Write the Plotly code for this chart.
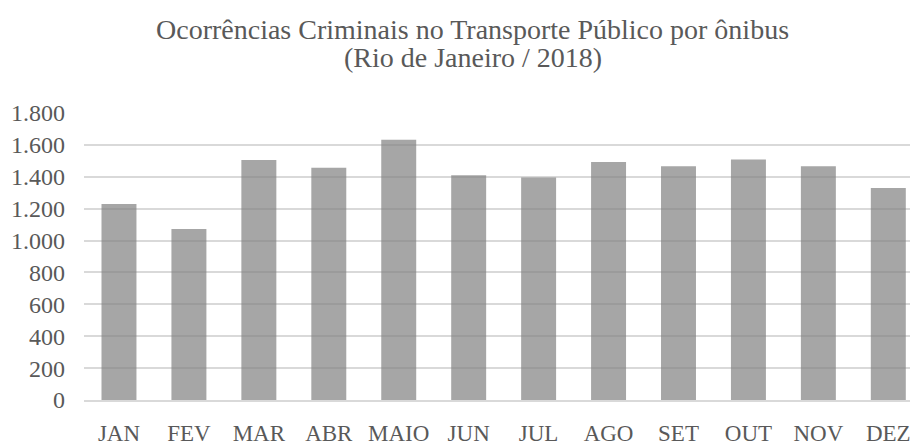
import plotly.graph_objects as go

# Monthly bus-transport crime occurrences, Rio de Janeiro 2018
meses = ["JAN", "FEV", "MAR", "ABR", "MAIO", "JUN", "JUL", "AGO", "SET", "OUT", "NOV", "DEZ"]
ocorrencias = [1230, 1073, 1505, 1456, 1633, 1409, 1395, 1492, 1466, 1509, 1466, 1329]
y_ticks = [0, 200, 400, 600, 800, 1000, 1200, 1400, 1600, 1800]
y_tick_labels = ["0", "200", "400", "600", "800", "1.000", "1.200", "1.400", "1.600", "1.800"]
titulo = ["Ocorrências Criminais no Transporte Público por ônibus", "(Rio de Janeiro / 2018)"]

FONT = "Liberation Serif"
TEXT_COLOR = "#595959"

fig = go.Figure(
    go.Bar(
        x=meses,
        y=ocorrencias,
        marker=dict(color="rgba(128,128,128,0.7)", line=dict(width=0)),
        hoverinfo="x+y",
    )
)

fig.update_layout(
    width=911,
    height=446,
    margin=dict(l=84, r=0, t=113, b=39, pad=0),
    paper_bgcolor="white",
    plot_bgcolor="white",
    bargap=0.5,
    showlegend=False,
    font=dict(family=FONT, color=TEXT_COLOR),
)

fig.update_xaxes(
    type="category",
    range=[-0.5, 11.31],
    showgrid=False,
    showline=True,
    linecolor="#d9d9d9",
    linewidth=2,
    ticks="",
    tickfont=dict(family=FONT, size=23, color=TEXT_COLOR),
    ticklabelstandoff=11,
)

fig.update_yaxes(
    range=[0, 1800],
    tickvals=y_ticks,
    ticktext=y_tick_labels,
    showgrid=True,
    gridcolor="#d9d9d9",
    gridwidth=2,
    zeroline=False,
    showline=False,
    ticks="",
    tickfont=dict(family=FONT, size=24, color=TEXT_COLOR),
    ticklabelstandoff=18,
)

# Two-line chart title
for linha, yb in zip(titulo, [45, 74]):
    fig.add_annotation(
        text=linha,
        xref="paper",
        yref="paper",
        x=(473 - 84) / 827,
        y=1 + (113 - yb) / 294,
        xanchor="center",
        yanchor="bottom",
        showarrow=False,
        font=dict(family=FONT, size=28, color=TEXT_COLOR),
    )

fig.write_html("out.html")
